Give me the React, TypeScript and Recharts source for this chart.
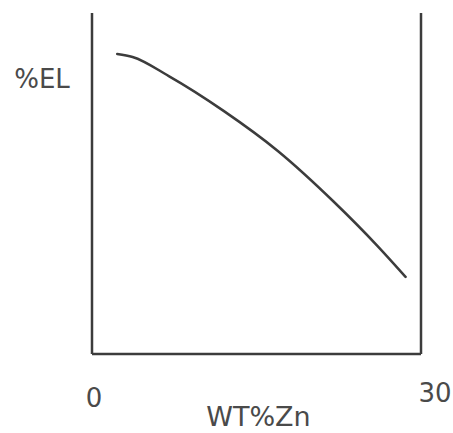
import { LineChart, Line, XAxis, YAxis, ReferenceLine } from 'recharts';

// hand-drawn curve (x in wt% Zn, y in relative %EL)
const zinc = [2.3, 3.7, 7, 12, 17, 22, 26, 28.6];
const elongation = [88, 87.1, 81.5, 71.3, 59.4, 44.8, 31.8, 22.6];
const xTicks = [0, 30];

const data = zinc.map((z, i) => ({ zn: z, el: elongation[i] }));

const INK = '#3c3c3c';
const TEXT = '#4a4a4a';
const FONT = '"DejaVu Sans", sans-serif';

const XTick = ({ x, y, payload }: any) => {
  const last = payload.value === 30;
  return (
    <text
      x={x + (last ? 14 : 2)}
      y={y + (last ? 40 : 45)}
      textAnchor="middle"
      fontFamily={FONT}
      fontSize={26}
      fill={TEXT}
    >
      {payload.value}
    </text>
  );
};

const YLabel = ({ viewBox }: any) => (
  <text x={viewBox.x + 42} y={viewBox.y + 75} textAnchor="middle" fontFamily={FONT} fontSize={26} fill={TEXT}>
    %EL
  </text>
);

const XLabel = ({ viewBox }: any) => (
  <text
    x={viewBox.x + viewBox.width / 2 + 2}
    y={viewBox.y + 72}
    textAnchor="middle"
    fontFamily={FONT}
    fontSize={27}
    fill={TEXT}
  >
    WT%Zn
  </text>
);

const App = () => {
  return (
    <div style={{ position: 'absolute', left: 0, top: 0, width: 453, height: 433, background: '#fff' }}>
      <LineChart width={453} height={433} data={data} margin={{ top: 13, right: 32, bottom: 0, left: 0 }}>
        <XAxis
          dataKey="zn"
          type="number"
          domain={[0, 30]}
          ticks={xTicks}
          tickLine={false}
          axisLine={{ stroke: INK, strokeWidth: 2.5 }}
          tick={<XTick />}
          height={79}
          label={<XLabel />}
        />
        <YAxis
          type="number"
          domain={[0, 100]}
          tick={false}
          tickLine={false}
          axisLine={{ stroke: INK, strokeWidth: 2.5 }}
          width={92}
          label={<YLabel />}
        />
        <ReferenceLine x={30} stroke={INK} strokeWidth={2.5} />
        <Line
          type="monotone"
          dataKey="el"
          stroke={INK}
          strokeWidth={2.5}
          strokeLinecap="round"
          dot={false}
          isAnimationActive={false}
        />
      </LineChart>
    </div>
  );
};

export default App;
